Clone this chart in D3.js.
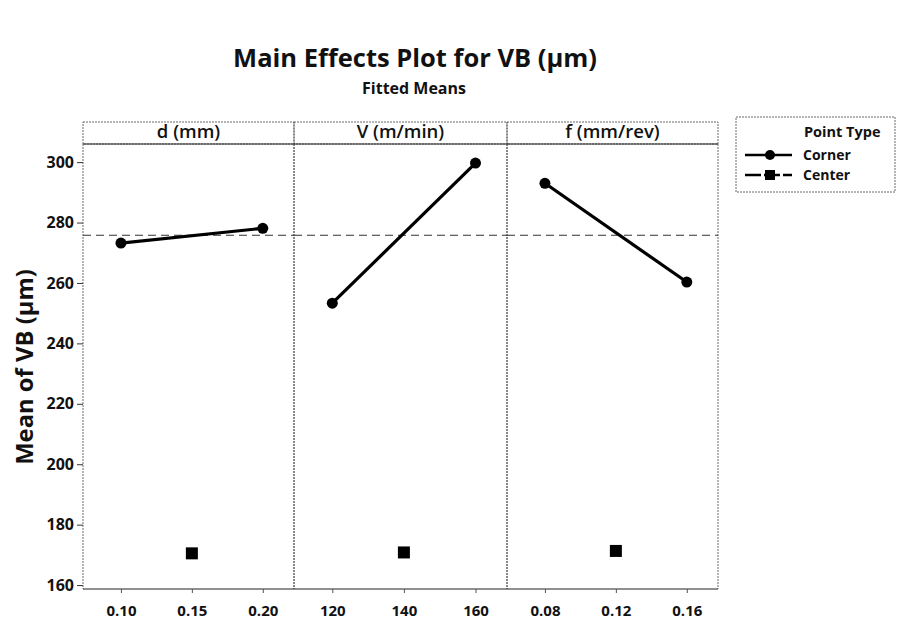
<!DOCTYPE html>
<html><head><meta charset="utf-8">
<script src="https://cdn.jsdelivr.net/npm/d3@7"></script>
<style>body{margin:0;background:#fff}svg{display:block}text{font-family:"Open Sans",sans-serif;fill:#111}</style>
</head><body><svg id="c" width="911" height="637"></svg>
<script>
const factors = ["d (mm)", "V (m/min)", "f (mm/rev)"];
const levels = [[0.10, 0.20], [120, 160], [0.08, 0.16]];
const centerLevels = [0.15, 140, 0.12];
const cornerMeans = [[273.2, 278.1], [253.3, 299.7], [293.0, 260.3]];
const centerMeans = [170.5, 170.8, 171.3];
const tickLabels = [["0.10", "0.15", "0.20"], ["120", "140", "160"], ["0.08", "0.12", "0.16"]];
const tickValues = [[0.10, 0.15, 0.20], [120, 140, 160], [0.08, 0.12, 0.16]];
const yTicks = [160, 180, 200, 220, 240, 260, 280, 300];
const overallMean = 275.8;
const title = "Main Effects Plot for VB (µm)";
const subtitle = "Fitted Means";
const yLabel = "Mean of VB (µm)";
const legendTitle = "Point Type";
const legendItems = ["Corner", "Center"];

const svg = d3.select("#c");
const plotTop = 144, plotBottom = 589, stripTop = 122;
const panelX = [83, 294, 507, 718];
const y = d3.scaleLinear().domain([158.7, 306]).range([plotBottom, plotTop]);

// Title
svg.append("text").attr("x", 415).attr("y", 67).attr("text-anchor", "middle")
  .attr("font-size", 25.5).attr("font-weight", 700).text(title);
svg.append("text").attr("x", 414).attr("y", 94).attr("text-anchor", "middle")
  .attr("font-size", 16).attr("font-weight", 700).text(subtitle);

// Y axis
const yAxis = d3.axisLeft(y).tickValues(yTicks).tickSize(6).tickPadding(3).tickFormat(d3.format("d"));
const ga = svg.append("g").attr("transform", `translate(${panelX[0]},0)`).call(yAxis);
ga.select(".domain").remove();
ga.selectAll("line").attr("stroke", "#333");
ga.selectAll("text").attr("font-size", 16).attr("font-weight", 700).style("font-family", "'Open Sans',sans-serif").attr("fill", "#111");
svg.append("text").attr("transform", "translate(33,367) rotate(-90)").attr("text-anchor", "middle")
  .attr("font-size", 23.8).attr("font-weight", 700).text(yLabel);

factors.forEach((f, i) => {
  const x0 = panelX[i], x1 = panelX[i + 1];
  const step = tickValues[i][1] - tickValues[i][0];
  const lo = levels[i][0], hi = levels[i][1];
  const x = d3.scaleLinear().domain([lo - 0.535 * step, hi + 0.44 * step]).range([x0, x1]);
  const g = svg.append("g");
  // strip
  g.append("rect").attr("x", x0).attr("y", stripTop).attr("width", x1 - x0).attr("height", plotTop - stripTop)
    .attr("fill", "none").attr("stroke", "#444").attr("stroke-width", 0.8).attr("stroke-dasharray", "2,1");
  g.append("line").attr("x1", x0).attr("x2", x1).attr("y1", plotTop).attr("y2", plotTop).attr("stroke", "#222").attr("stroke-width", 1.2);
  g.append("text").attr("x", (x0 + x1) / 2).attr("y", 138).attr("text-anchor", "middle")
    .attr("font-size", 18.5).attr("font-weight", 600).text(f);
  // panel border
  g.append("line").attr("x1", x0).attr("x2", x0).attr("y1", plotTop).attr("y2", plotBottom).attr("stroke", "#444").attr("stroke-width", 0.8).attr("stroke-dasharray", "2,1");
  g.append("line").attr("x1", x1).attr("x2", x1).attr("y1", plotTop).attr("y2", plotBottom).attr("stroke", "#444").attr("stroke-width", 0.8).attr("stroke-dasharray", "2,1");
  g.append("line").attr("x1", x0).attr("x2", x1).attr("y1", plotBottom).attr("y2", plotBottom).attr("stroke", "#222").attr("stroke-width", 1.2);
  // x axis
  const xa = d3.axisBottom(x).tickValues(tickValues[i]).tickSize(4).tickPadding(12)
    .tickFormat((d, k) => tickLabels[i][k]);
  const gx = g.append("g").attr("transform", `translate(0,${plotBottom})`).call(xa);
  gx.select(".domain").remove();
  gx.selectAll("line").attr("stroke", "#555");
  gx.selectAll("text").attr("font-size", 15).attr("font-weight", 700).style("font-family", "'Open Sans',sans-serif").attr("fill", "#111");
  // reference line
  g.append("line").attr("x1", x0).attr("x2", x1).attr("y1", y(overallMean)).attr("y2", y(overallMean))
    .attr("stroke", "#333").attr("stroke-width", 1.2).attr("stroke-dasharray", "8,5");
  // corner line
  const pts = levels[i].map((v, k) => [x(v), y(cornerMeans[i][k])]);
  g.append("path").attr("d", d3.line()(pts)).attr("stroke", "#000").attr("stroke-width", 3.2).attr("fill", "none");
  g.selectAll("circle").data(pts).join("circle").attr("cx", d => d[0]).attr("cy", d => d[1]).attr("r", 5.5).attr("fill", "#000");
  // center point
  g.append("rect").attr("x", x(centerLevels[i]) - 6).attr("y", y(centerMeans[i]) - 6).attr("width", 12).attr("height", 12).attr("fill", "#000");
});

// Legend
const lg = svg.append("g");
lg.append("rect").attr("x", 736).attr("y", 117).attr("width", 159).attr("height", 75)
  .attr("fill", "none").attr("stroke", "#444").attr("stroke-width", 0.8).attr("stroke-dasharray", "2,1");
lg.append("text").attr("x", 804).attr("y", 137).attr("font-size", 14.5).attr("font-weight", 700).text(legendTitle);
legendItems.forEach((t, k) => {
  const yy = 155 + k * 20;
  lg.append("line").attr("x1", 745).attr("x2", 792).attr("y1", yy).attr("y2", yy)
    .attr("stroke", "#000").attr("stroke-width", 2.5).attr("stroke-dasharray", k === 0 ? null : "16,3");
  if (k === 0) lg.append("circle").attr("cx", 770).attr("cy", yy).attr("r", 5).attr("fill", "#000");
  else lg.append("rect").attr("x", 765).attr("y", yy - 5).attr("width", 10).attr("height", 10).attr("fill", "#000");
  lg.append("text").attr("x", 803).attr("y", yy + 5).attr("font-size", 14).attr("font-weight", 700).text(t);
});
</script></body></html>
